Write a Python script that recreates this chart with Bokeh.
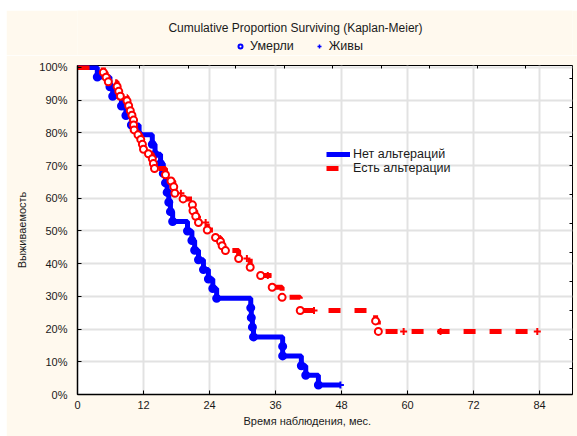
import numpy as np

from bokeh.plotting import figure
from bokeh.layouts import column
from bokeh.models import (Range1d, FixedTicker, LinearAxis, Legend, LegendItem,
                          NumeralTickFormatter, Label, Title)
from bokeh.embed import file_html
from bokeh.resources import INLINE

# ---------------------------------------------------------------------------
# Kaplan-Meier estimates: month of each death and the survival level after it
# ---------------------------------------------------------------------------
no_alt_label = "Нет альтераций"
no_alt_death_months = [3.6, 5.9, 6.4, 8.0, 8.8, 9.8, 11.2, 13.6, 14.1, 15.1,
                       15.6, 16.0, 16.3, 16.6, 16.9, 17.3, 20.0, 20.8, 21.3,
                       22.0, 22.9, 23.8, 24.6, 25.3, 31.5, 31.6, 31.8, 32.0,
                       37.3, 37.3, 40.7, 41.5, 43.8]
no_alt_death_surv = [0.971, 0.941, 0.912, 0.882, 0.853, 0.824, 0.794, 0.765,
                     0.735, 0.706, 0.676, 0.647, 0.618, 0.588, 0.559, 0.529,
                     0.500, 0.471, 0.441, 0.412, 0.382, 0.353, 0.324, 0.294,
                     0.265, 0.235, 0.206, 0.176, 0.147, 0.118, 0.088, 0.059,
                     0.029]
no_alt_censor_months = [47.8]
no_alt_censor_surv = [0.029]

alt_label = "Есть альтерации"
alt_death_months = [4.7, 5.2, 5.6, 7.2, 7.5, 7.8, 9.0, 9.3, 9.6, 9.9, 10.2,
                    10.2, 10.3, 11.0, 11.5, 11.8, 12.0, 12.9, 13.6, 13.8, 14.0,
                    16.0, 17.0, 17.5, 17.7, 19.2, 20.9, 21.0, 21.5, 22.0, 23.6,
                    25.1, 26.0, 26.3, 26.9, 29.3, 31.4, 33.3, 35.4, 37.2, 40.5,
                    54.2, 54.7]
alt_death_surv = [0.985, 0.970, 0.956, 0.942, 0.927, 0.912, 0.898, 0.883,
                  0.868, 0.854, 0.839, 0.824, 0.809, 0.794, 0.780, 0.765,
                  0.750, 0.736, 0.721, 0.706, 0.691, 0.672, 0.653, 0.635,
                  0.615, 0.598, 0.580, 0.562, 0.545, 0.526, 0.503, 0.480,
                  0.468, 0.455, 0.440, 0.416, 0.389, 0.364, 0.328, 0.297,
                  0.257, 0.225, 0.193]
alt_censor_months = [18.8, 23.3, 30.8, 34.6, 43.0, 59.3, 66.0, 83.6]
alt_censor_surv = [0.615, 0.526, 0.416, 0.364, 0.257, 0.193, 0.193, 0.193]

x_ticks = [0, 12, 24, 36, 48, 60, 72, 84]
y_ticks = [0.0, 0.1, 0.2, 0.3, 0.4, 0.5, 0.6, 0.7, 0.8, 0.9, 1.0]
top_ticks = [11.3, 20.1, 28.8, 37.6, 46.4, 55.2, 64.0, 72.7, 81.5]
right_ticks = [0.965, 0.877, 0.788, 0.699, 0.611, 0.522, 0.433, 0.345,
               0.256, 0.167, 0.079]

title_text = "Cumulative Proportion Surviving (Kaplan-Meier)"
died_label = "Умерли"
alive_label = "Живы"
x_title = "Время наблюдения, мес."
y_title = "Выживаемость"

BLUE = "#0000FF"
RED = "#FF0000"
PANEL = "#FFF9EE"
TEXT = "#1a1a1a"
FONT = "Liberation Sans"

BORDER_L, BORDER_R = 71, 5
FRAME_W, FRAME_H = 495, 329
HEAD_H = 45      # strip above the plot with the title and the marker key


def step_path(months, surv, last_month):
    """Step curve starting at 100% and running on to the last follow-up."""
    xs = [0.0] + list(months) + [last_month]
    ys = [1.0] + list(surv) + [surv[-1]]
    return xs, ys


# ---------------------------------------------------------------- header strip
# x runs in pixels from the page's left edge, y in pixels up from the plot top
head = figure(frame_width=FRAME_W, frame_height=HEAD_H,
              min_border_left=BORDER_L, min_border_right=BORDER_R,
              min_border_top=0, min_border_bottom=0,
              x_range=Range1d(77, 77 + FRAME_W), y_range=Range1d(0, HEAD_H),
              x_axis_type=None, y_axis_type=None, title=None,
              output_backend="svg", toolbar_location=None)
head.background_fill_color = PANEL
head.border_fill_color = PANEL
head.outline_line_color = None
head.xgrid.visible = False
head.ygrid.visible = False
head.add_layout(Label(x=295, y=28, text=title_text, text_align="center",
                      text_baseline="middle", text_font=FONT,
                      text_font_size="12px", text_color=TEXT))

# legend-only renderers: a single NaN point, so only the key symbol is drawn
nan = np.array([np.nan])
key_died = head.scatter(x=nan, y=nan, marker="circle", size=6, line_color=BLUE,
                        line_width=2, fill_color="white")
key_alive = head.scatter(x=nan, y=nan, marker="cross", size=8, line_color=BLUE,
                         line_width=1.5)
marker_key = Legend(items=[LegendItem(label=died_label, renderers=[key_died]),
                           LegendItem(label=alive_label, renderers=[key_alive])],
                    orientation="horizontal", location=(158, 2),
                    glyph_width=10, glyph_height=14, label_height=14,
                    label_standoff=5, spacing=20, padding=0, margin=0,
                    label_text_font=FONT, label_text_font_size="12.5px",
                    label_text_color=TEXT, background_fill_alpha=0,
                    border_line_alpha=0)
head.add_layout(marker_key, "center")

# ------------------------------------------------------------------ main plot
p = figure(title=None, frame_width=FRAME_W, frame_height=FRAME_H,
           min_border_left=BORDER_L, min_border_right=BORDER_R,
           min_border_top=10, min_border_bottom=42,
           x_range=Range1d(0, 90), y_range=Range1d(0, 1.006),
           output_backend="svg", toolbar_location=None)
p.background_fill_color = "white"
p.border_fill_color = PANEL
p.outline_line_color = "black"
p.outline_line_width = 1

p.xaxis.ticker = FixedTicker(ticks=x_ticks)
p.yaxis.ticker = FixedTicker(ticks=y_ticks)
p.yaxis.formatter = NumeralTickFormatter(format="0%")
for ax in (p.xaxis[0], p.yaxis[0]):
    ax.axis_line_color = "black"
    ax.axis_line_width = 1.5
    ax.major_tick_in = 4
    ax.major_tick_out = 0
    ax.major_tick_line_color = "black"
    ax.minor_tick_line_color = None
    ax.major_label_text_font = FONT
    ax.major_label_text_font_size = "11px"
    ax.major_label_text_color = TEXT
    ax.axis_label_text_font = FONT
    ax.axis_label_text_font_size = "11px"
    ax.axis_label_text_font_style = "normal"
    ax.axis_label_text_color = TEXT
p.yaxis.major_label_standoff = 10
p.xaxis.major_label_standoff = 6
p.yaxis.axis_label = y_title
p.yaxis.axis_label_standoff = 8

# x-axis title sits a little left of the frame centre
p.add_layout(Title(text=x_title, align="left", offset=166, standoff=3,
                   text_font=FONT, text_font_size="11px",
                   text_font_style="normal", text_color=TEXT), "below")

p.xgrid.ticker = FixedTicker(ticks=x_ticks)
p.ygrid.ticker = FixedTicker(ticks=y_ticks)
for g in (p.xgrid[0], p.ygrid[0]):
    g.grid_line_color = "#E2E2E2"
    g.grid_line_width = 2

# secondary tick marks along the top and right edges
top_ax = LinearAxis(ticker=FixedTicker(ticks=top_ticks), axis_line_color=None,
                    major_tick_in=3, major_tick_out=0, minor_tick_line_color=None,
                    major_label_text_alpha=0, major_label_text_font_size="1px",
                    major_label_standoff=0)
right_ax = LinearAxis(ticker=FixedTicker(ticks=right_ticks), axis_line_color=None,
                      major_tick_in=3, major_tick_out=0, minor_tick_line_color=None,
                      major_label_text_alpha=0, major_label_text_font_size="1px",
                      major_label_standoff=0)
p.add_layout(top_ax, "above")
p.add_layout(right_ax, "right")

# group without alterations (solid blue)
bx, by = step_path(no_alt_death_months, no_alt_death_surv, no_alt_censor_months[-1])
p.scatter(no_alt_death_months, no_alt_death_surv, marker="circle", size=7,
          line_color=BLUE, line_width=2, fill_color=BLUE)
blue_line = p.step(bx, by, mode="after", line_color=BLUE, line_width=5)
p.scatter(no_alt_censor_months, no_alt_censor_surv, marker="cross", size=7,
          line_color=BLUE, line_width=2)

# group with alterations (dashed red)
rx, ry = step_path(alt_death_months, alt_death_surv, alt_censor_months[-1])
red_line = p.step(rx, ry, mode="after", line_color=RED, line_width=5,
                  line_dash="12 14")
p.scatter(alt_death_months, alt_death_surv, marker="circle", size=7,
          line_color=RED, line_width=2, fill_color="white")
p.scatter(alt_censor_months, alt_censor_surv, marker="cross", size=7,
          line_color=RED, line_width=2)

group_key = Legend(items=[LegendItem(label=no_alt_label, renderers=[blue_line]),
                          LegendItem(label=alt_label, renderers=[red_line])],
                   location=(249, 219), glyph_width=24, glyph_height=12,
                   label_height=12, label_standoff=3, spacing=-3, padding=0,
                   margin=0, label_text_font=FONT, label_text_font_size="12.5px",
                   label_text_color=TEXT, background_fill_alpha=0,
                   border_line_alpha=0)
p.add_layout(group_key, "center")

page = column(head, p, spacing=0)
page.margin = (10, 0, 0, 6)

open("out.html", "w").write(file_html(page, INLINE))
